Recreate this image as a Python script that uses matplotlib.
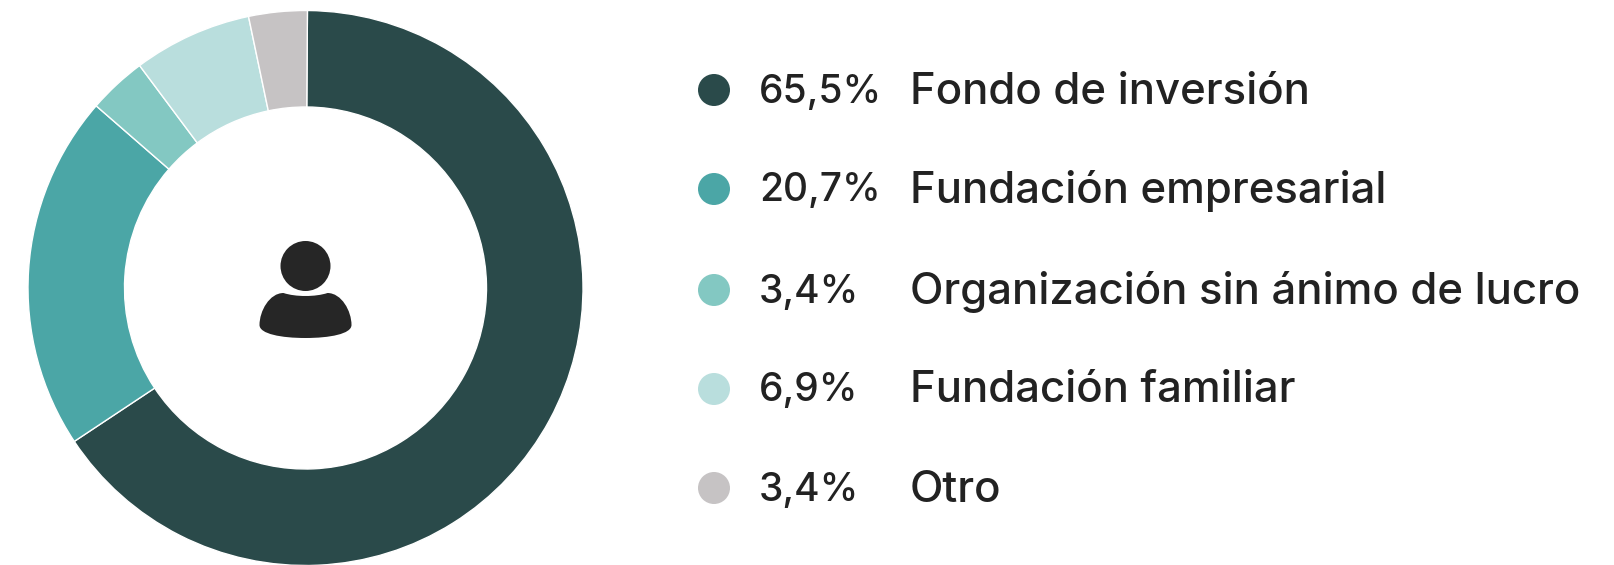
import matplotlib
matplotlib.use("Agg")
import matplotlib.pyplot as plt
from matplotlib.patches import Circle, PathPatch
from matplotlib.path import Path

values = [65.5, 20.7, 3.4, 6.9, 3.4]
pct_labels = ["65,5%", "20,7%", "3,4%", "6,9%", "3,4%"]
names = ["Fondo de inversión", "Fundación empresarial", "Organización sin ánimo de lucro",
         "Fundación familiar", "Otro"]
colors = ["#2A4A4A", "#4BA6A6", "#83C8C2", "#B9DEDD", "#C6C3C4"]
legend_y = [90, 189, 290, 389, 488]

W, H = 1614, 565
fig = plt.figure(figsize=(W/100, H/100), dpi=100)
ax = fig.add_axes([0, 0, 1, 1])

cx, cy, R, r = 305.5, H-288, 277.5, 181
ax.pie(values, colors=colors, startangle=89.6, counterclock=False, center=(cx, cy), radius=R,
       frame=True, wedgeprops=dict(width=R-r, edgecolor="white", linewidth=1.0))
ax.set_xlim(0, W)
ax.set_ylim(0, H)
ax.set_aspect("equal")
ax.axis("off")

# person icon
ink = "#262626"
ax.add_patch(Circle((cx, H-266), 25, color=ink, lw=0))
top, bot, hw = H-293, H-338, 46
body = Path(
    [(cx-22, top), (cx-36, top), (cx-hw, top-18), (cx-hw, top-32),
     (cx-hw, top-41), (cx-24, bot), (cx, bot),
     (cx+24, bot), (cx+hw, top-41), (cx+hw, top-32),
     (cx+hw, top-18), (cx+36, top), (cx+22, top),
     (cx+10, top-4), (cx-10, top-4), (cx-22, top), (cx-22, top)],
    [Path.MOVETO] + [Path.CURVE4]*15 + [Path.CLOSEPOLY])
ax.add_patch(PathPatch(body, facecolor=ink, lw=0))

font = "Inter"
for y, c, p, n in zip(legend_y, colors, pct_labels, names):
    ax.add_patch(Circle((714, H-y), 16, color=c, lw=0))
    ax.text(759, H-y-2, p, family=font, fontsize=28, weight=500, color="#222222", va="center", ha="left")
    ax.text(910, H-y-2, n, family=font, fontsize=31.5, weight=500, color="#222222", va="center", ha="left")

fig.savefig("out.png", dpi=100, facecolor="white")
